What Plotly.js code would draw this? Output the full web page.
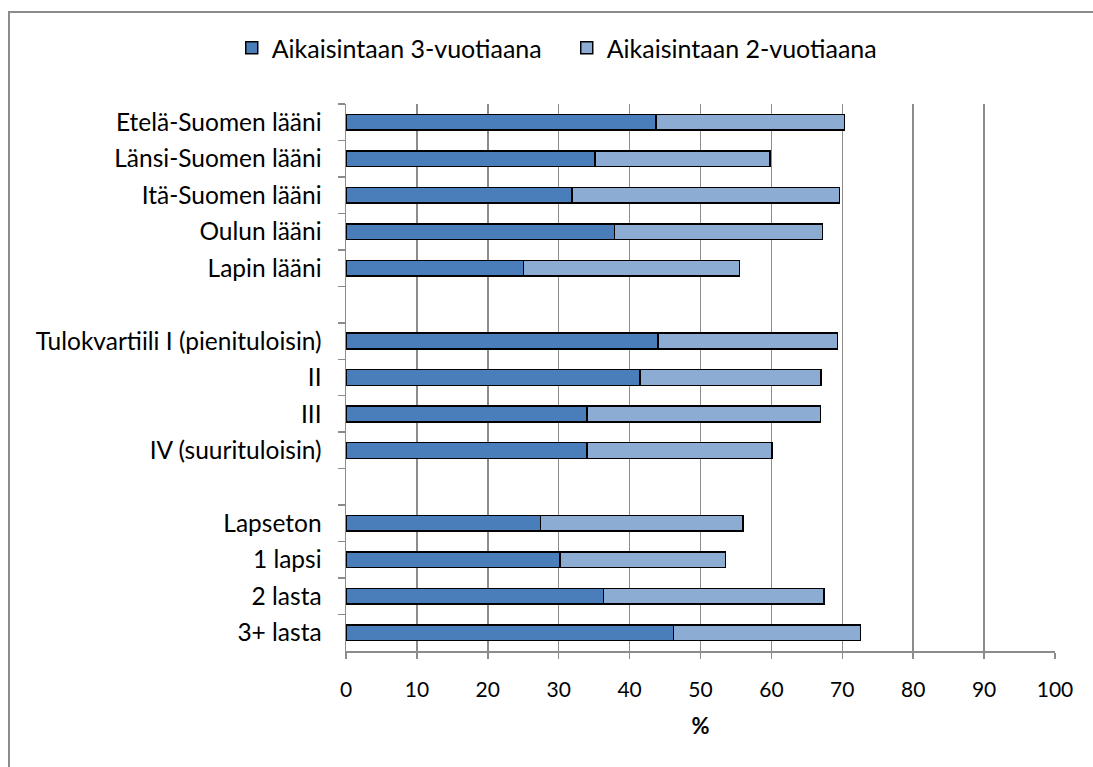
<!DOCTYPE html>
<html>
<head>
<meta charset="utf-8">
<script src="https://cdn.plot.ly/plotly-3.0.1.min.js"></script>
<style>
html,body{margin:0;padding:0;background:#fff;}
#wrap{position:relative;width:1093px;height:767px;overflow:hidden;}
#chart{position:absolute;left:0;top:0;width:1093px;height:767px;}
#frame{position:absolute;left:8px;top:11px;width:1200px;height:900px;border-left:2px solid #8c8c8c;border-top:2px solid #8c8c8c;pointer-events:none;}
</style>
</head>
<body>
<div id="wrap"><div id="chart"></div><div id="frame"></div></div>
<script>
const categories = [
  "Etelä-Suomen lääni", "Länsi-Suomen lääni", "Itä-Suomen lääni", "Oulun lääni", "Lapin lääni",
  " ",
  "Tulokvartiili I (pienituloisin)", "II", "III", "IV (suurituloisin)",
  "  ",
  "Lapseton", "1 lapsi", "2 lasta", "3+ lasta"
];
const seriesNames = ["Aikaisintaan 3-vuotiaana", "Aikaisintaan 2-vuotiaana"];
const age3 = [43.7, 35.1, 31.9, 37.9, 25.0, null, 44.0, 41.5, 34.0, 34.0, null, 27.4, 30.2, 36.3, 46.2];
const age2 = [26.6, 24.7, 37.7, 29.3, 30.5, null, 25.3, 25.5, 32.9, 26.1, null, 28.6, 23.3, 31.1, 26.4];
const xTicks = [0, 10, 20, 30, 40, 50, 60, 70, 80, 90, 100];

const FONT = "Lato, 'Open Sans', sans-serif";
const traces = [
  {type: "bar", orientation: "h", name: seriesNames[0], y: categories, x: age3,
   marker: {color: "#4a7ebb", line: {color: "#000", width: 1.5}}},
  {type: "bar", orientation: "h", name: seriesNames[1], y: categories, x: age2,
   marker: {color: "#8cacd4", line: {color: "#000", width: 1.5}}}
];
const layout = {
  width: 1093, height: 767,
  margin: {l: 346, r: 38, t: 103.5, b: 116, pad: 0},
  paper_bgcolor: "#fff", plot_bgcolor: "#fff",
  barmode: "stack", bargap: 0.57,
  font: {family: FONT, size: 18, color: "#000"},
  showlegend: true,
  legend: {orientation: "h", x: 0.5185, xanchor: "center", xref: "container", y: 1 - 48/767, yref: "container",
    yanchor: "middle", font: {family: FONT, size: 25, color: "#000"}, traceorder: "normal",
    itemwidth: 30, entrywidth: 290},
  xaxis: {range: [0, 100], tickvals: xTicks, ticktext: xTicks.map(String), showgrid: true,
    gridcolor: "#8c8c8c", gridwidth: 1.5, zeroline: false, showline: true, linecolor: "#8c8c8c",
    linewidth: 1.5, ticks: "outside", ticklen: 6, tickcolor: "#8c8c8c", tickwidth: 1.5,
    ticklabelstandoff: 13, tickfont: {family: FONT, size: 21, color: "#000"},
    title: {text: "<b>%</b>", font: {family: FONT, size: 22, color: "#000"}, standoff: 19},
    fixedrange: true},
  yaxis: {type: "category", categoryorder: "array", categoryarray: categories, autorange: "reversed",
    showgrid: false, zeroline: false, showline: true, linecolor: "#8c8c8c", linewidth: 1.5,
    ticks: "outside", tickson: "boundaries", ticklen: 7, tickcolor: "#8c8c8c", tickwidth: 1.5,
    ticklabelstandoff: 18, tickfont: {family: FONT, size: 24.5, color: "#000"}, fixedrange: true}
};
Plotly.newPlot("chart", traces, layout, {displayModeBar: false, staticPlot: true});
</script>
</body>
</html>
